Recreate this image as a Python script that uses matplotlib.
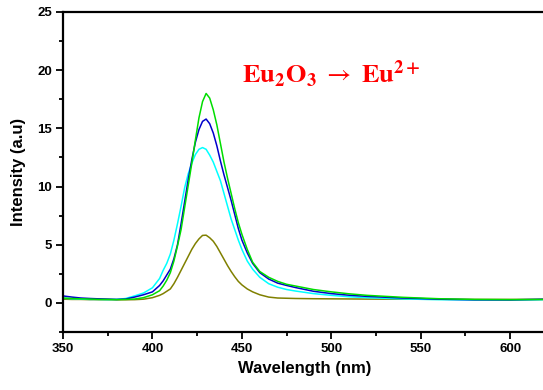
import matplotlib
matplotlib.use("Agg")
import matplotlib.pyplot as plt
from matplotlib.ticker import MultipleLocator

# longitud de onda (nm) y espectros
wl = [350, 355, 360, 365, 370, 375, 380, 385, 390, 395, 400,
      404, 406, 408, 410, 412, 414, 416, 418, 420, 422, 424, 426,
      428, 430, 432, 434, 436, 438, 440, 442, 444, 446, 448, 450,
      453, 456, 460, 465, 470, 475, 480, 490, 500, 510, 520, 540, 560, 580, 600, 620]

verde = [0.42, 0.38, 0.35, 0.33, 0.30, 0.30, 0.28, 0.30, 0.33, 0.45, 0.70,
         1.05, 1.45, 1.95, 2.60, 3.60, 4.90, 6.30, 8.20, 10.1, 12.0, 14.0, 15.9,
         17.3, 18.0, 17.6, 16.6, 15.3, 13.7, 12.1, 10.7, 9.40, 8.10, 6.90, 5.90,
         4.60, 3.50, 2.70, 2.20, 1.85, 1.60, 1.45, 1.15, 0.95, 0.78, 0.65, 0.48, 0.36, 0.30, 0.28, 0.30]

azul = [0.60, 0.50, 0.42, 0.38, 0.35, 0.33, 0.30, 0.33, 0.50, 0.70, 0.95,
        1.50, 1.90, 2.40, 2.90, 3.80, 5.00, 6.80, 8.70, 10.6, 12.3, 13.8, 14.9,
        15.6, 15.8, 15.4, 14.6, 13.5, 12.2, 11.0, 9.90, 8.80, 7.60, 6.40, 5.40,
        4.30, 3.40, 2.60, 2.05, 1.70, 1.50, 1.32, 1.00, 0.80, 0.66, 0.56, 0.42, 0.32, 0.27, 0.26, 0.32]

cian = [0.40, 0.36, 0.33, 0.30, 0.30, 0.28, 0.30, 0.38, 0.60, 0.85, 1.30,
        2.10, 2.80, 3.40, 4.20, 5.40, 6.80, 8.30, 9.90, 11.1, 12.0, 12.75, 13.2,
        13.35, 13.2, 12.7, 12.1, 11.3, 10.5, 9.40, 8.30, 7.20, 6.30, 5.40, 4.60,
        3.60, 2.90, 2.20, 1.65, 1.35, 1.15, 1.02, 0.80, 0.65, 0.53, 0.45, 0.34, 0.28, 0.25, 0.25, 0.28]

oliva = [0.32, 0.30, 0.30, 0.28, 0.28, 0.27, 0.27, 0.27, 0.28, 0.32, 0.45,
         0.65, 0.80, 1.00, 1.20, 1.65, 2.20, 2.80, 3.40, 4.00, 4.60, 5.10, 5.50,
         5.80, 5.82, 5.60, 5.30, 4.85, 4.30, 3.75, 3.20, 2.70, 2.25, 1.85, 1.55,
         1.20, 0.95, 0.70, 0.50, 0.42, 0.40, 0.38, 0.36, 0.35, 0.34, 0.33, 0.32, 0.31, 0.30, 0.30, 0.30]

plt.rcParams['mathtext.fontset'] = 'stix'

fig = plt.figure(figsize=(5.43, 3.90), dpi=100)
ax = fig.add_axes([63 / 543, 58 / 390, 483 / 543, 320 / 390])

ax.plot(wl, oliva, color='#808000', lw=1.1)
ax.plot(wl, cian, color='#00ffff', lw=1.1)
ax.plot(wl, azul, color='#0000cc', lw=1.1)
ax.plot(wl, verde, color='#00dd00', lw=1.1)

ax.set_xlim(350, 620)
ax.set_ylim(-2.5, 25)

ax.xaxis.set_major_locator(MultipleLocator(50))
ax.xaxis.set_minor_locator(MultipleLocator(25))
ax.yaxis.set_major_locator(MultipleLocator(5))
ax.yaxis.set_minor_locator(MultipleLocator(2.5))
ax.tick_params(which='both', direction='out', width=1.3, top=False, right=False)
ax.tick_params(which='major', length=5, labelsize=9.5, pad=3)
ax.tick_params(which='minor', length=3)
for lab in ax.get_xticklabels() + ax.get_yticklabels():
    lab.set_fontweight('bold')
    lab.set_family('Liberation Sans')

for s in ax.spines.values():
    s.set_linewidth(1.6)
ax.spines['right'].set_visible(False)

ax.set_xlabel('Wavelength (nm)', fontsize=12, fontweight='bold',
              family='Liberation Sans', labelpad=4)
ax.set_ylabel('Intensity (a.u)', fontsize=12, fontweight='bold',
              family='Liberation Sans', labelpad=8)

ax.text(500, 19.6, r'$\mathbf{Eu_2O_3}\ \rightarrow\ \mathbf{Eu^{2+}}$',
        color='red', fontsize=19, ha='center', va='center')

fig.savefig('out.png', dpi=100)
